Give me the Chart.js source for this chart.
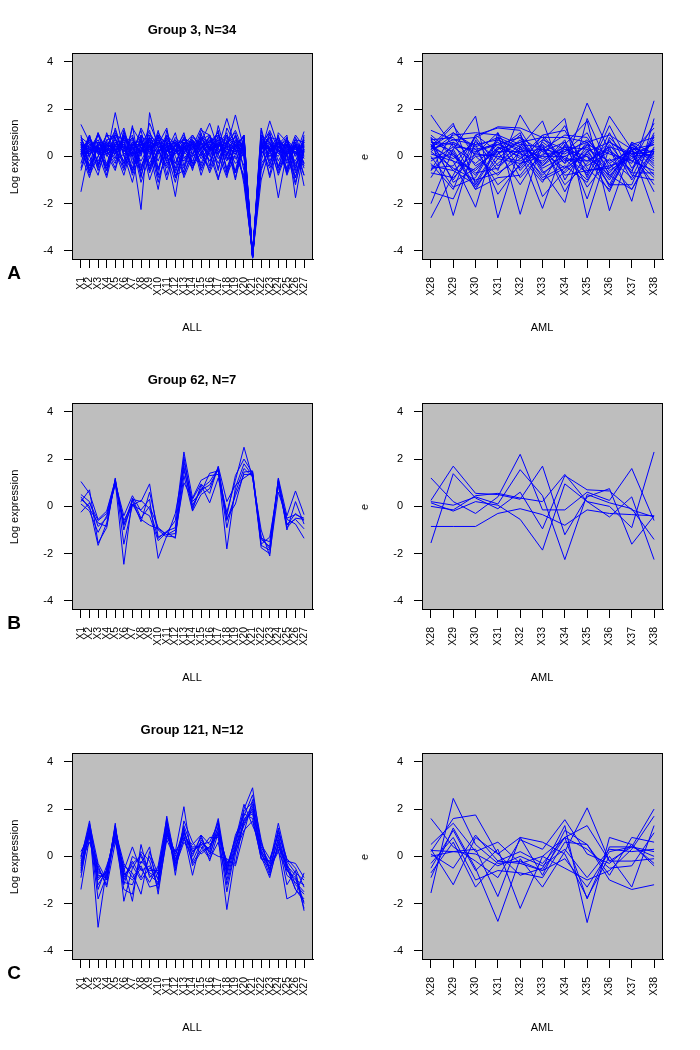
<!DOCTYPE html>
<html>
<head>
<meta charset="utf-8">
<script src="https://cdn.jsdelivr.net/npm/chart.js@4"></script>
<style>
  body { margin: 0; background: #fff; }
  #page { position: relative; width: 700px; height: 1050px; font-family: "Liberation Sans", Arial, sans-serif; color: #000; }
  #page canvas { position: absolute; }
  .txt { position: absolute; transform: translate(-50%, -50%); white-space: nowrap; font-size: 11px; }
  .rot { transform: translate(-50%, -50%) rotate(-90deg); }
  .ttl { font-weight: bold; font-size: 13px; }
  .let { font-weight: bold; font-size: 19px; }
</style>
</head>
<body>
<div id="page"></div>
<script>
// tick labels and titles
const yTicks = [-4, -2, 0, 2, 4];
const allLabels = ['X1','X2','X3','X4','X5','X6','X7','X8','X9','X10','X11','X12','X13','X14',
  'X15','X16','X17','X18','X19','X20','X21','X22','X23','X24','X25','X26','X27'];
const amlLabels = ['X28','X29','X30','X31','X32','X33','X34','X35','X36','X37','X38'];
const titles = ['Group 3, N=34', 'Group 62, N=7', 'Group 121, N=12'];
const rowLetters = ['A', 'B', 'C'];

// Group 3 - ALL samples (34 genes)
const g3All = [
  [0.3,-0.5,0.5,0.2,0.6, 0.4,-0.6,0.3,0.8,0.2, 0.5,-0.7,0.3,0.6,-0.4, 0.4,0.7,-0.5,0.5,0.2, -4.2,0.4,0.6,-0.5,0.3, 0.2,0.5],
  [1.35,0.6,0.2,0.5,0.3, 0.7,0.4,-0.2,0.5,0.9, 0.2,0.6,-0.1,0.4,0.8, 0.3,0.1,0.9,0.4,0.6, -4.15,0.2,1.5,0.4,0.7, 0.0,1.05],
  [-1.5,0.3,0.7,0.0,1.85, 0.2,0.6,0.4,-0.3,0.5, 1.2,-0.6,0.4,0.1,0.5, 0.8,0.2,0.4,1.75,0.3, -4.25,0.6,0.0,0.5,0.1, 0.6,-0.3],
  [0.5,-0.2,0.3,0.6,0.1, 0.9,0.2,-2.25,1.85,0.3, -0.4,0.5,0.2,-0.2,0.6, 0.1,0.5,0.2,-0.1,0.4, -4.1,0.9,0.3,0.0,0.6, 0.3,0.4],
  [0.1,0.8,-0.3,0.4,0.5, -0.2,1.2,0.6,0.2,-1.4, 0.6,0.3,-0.5,0.7,0.2, 0.5,-0.3,0.6,0.3,-0.9, -4.2,0.3,0.8,-0.2,0.5, -0.4,0.6],
  [0.8,0.0,0.9,0.3,0.4, 0.6,-0.5,0.9,0.4,0.7, 0.1,-1.7,0.6,0.3,0.8, 0.2,0.6,-0.2,0.7,0.5, -4.3,0.5,0.1,0.7,-0.3, 0.4,0.2],
  [0.2,0.5,0.4,-0.6,0.9, 0.3,0.7,0.1,1.0,0.4, 0.3,0.7,0.2,0.5,-0.3, 0.6,0.9,0.5,0.1,0.7, -4.15,-0.5,0.4,-1.75,0.2, 0.7,-0.1],
  [0.4,0.2,0.6,0.5,-0.1, 1.0,0.3,0.5,0.6,-0.2, 0.8,0.1,0.5,0.9,0.3, -0.2,0.4,1.6,0.4,0.0, -4.2,0.8,0.3,0.5,0.9, -1.75,0.3],
  [0.0,0.7,0.1,0.3,0.7, 0.5,0.9,-0.4,0.3,0.6, 0.2,0.4,0.9,0.1,0.6, 1.4,0.3,0.0,0.9,-1.2, -4.1,0.4,0.7,0.2,0.1, 0.5,-1.25],
  [0.6,-0.4,0.4,0.1,0.3, -0.3,0.5,0.2,0.7,0.1, 0.6,0.3,-0.2,0.4,1.2, 0.3,0.5,0.3,0.2,0.6, -4.25,1.2,-0.2,0.6,0.4, 0.1,0.6],
  [0.2,0.4,-0.5,0.7,0.2, 0.8,0.1,0.6,-0.6,0.3, 0.9,0.2,0.4,0.0,0.3, 0.7,0.1,0.8,0.3,0.9, -4.2,0.1,0.5,0.3,-0.5, 0.8,0.0],
  [0.7,0.1,0.3,0.4,1.1, 0.1,0.4,0.3,0.2,0.8, -0.1,0.5,0.7,0.6,-0.1, 0.4,0.8,0.1,0.6,0.3, -4.15,0.7,0.2,0.8,0.2, -0.2,0.7],
  [0.3,-0.7,0.6,0.2,0.4, 0.5,0.0,1.2,0.5,-0.5, 0.4,0.6,0.1,0.8,0.5, 0.0,0.6,0.4,-0.3,0.1, -4.3,0.3,0.9,0.1,0.7, 0.3,0.1],
  [0.5,0.3,0.2,-0.3,0.6, 0.2,0.8,0.0,1.4,0.5, 0.1,-0.3,0.5,0.3,0.7, 0.9,0.2,0.6,0.8,0.4, -4.2,-1.0,0.3,0.6,0.0, 0.9,0.4],
  [0.1,0.9,-0.4,0.5,0.2, 0.7,-0.7,0.7,-0.1,1.1, -0.3,0.2,1.0,-0.4,0.4, 0.6,1.0,-0.6,0.5,0.8, -4.1,0.6,-0.3,0.4,0.8, -0.5,0.8],
  [0.4,-0.6,0.0,0.9,0.8, -0.3,0.2,1.1,-0.4,0.2, 0.7,-0.8,-0.6,0.6,0.6, -0.2,0.4,0.9,-0.7,0.5, -4.25,0.5,1.0,-0.6,0.1, 0.4,-0.5],
  [0.2,0.0,1.0,-0.4,0.3, -0.6,0.6,0.2,0.8,-0.9, 0.0,0.8,0.4,-0.3,0.1, 0.9,-0.1,0.5,1.1,0.2, -4.2,0.9,0.6,-0.4,0.5, -0.3,0.2],
  [0.6,-0.4,1.0,0.2,-0.3, 1.1,-0.3,0.8,-0.6,1.0, 0.4,-0.5,0.8,-0.3,1.0, -0.4,0.9,-0.1,0.0,-0.8, -4.15,1.1,-0.4,0.9,-0.6, 0.5,-0.4],
  [-0.3,0.9,-0.4,1.0,0.0, -0.4,1.3,-0.8,0.4,-0.6, 0.9,0.5,-0.7,0.1,1.1, 0.9,-0.6,1.2,0.5,-0.4, -4.3,-0.2,1.0,-0.5,0.8, -0.6,0.9],
  [0.9,-0.6,0.4,-0.5,1.2, 0.0,-0.6,0.5,1.1,-0.5, 0.2,1.0,-0.4,0.7,-0.6, 0.3,1.1,-0.7,0.4,0.9, -4.2,0.6,-0.8,1.0,0.6, -0.7,0.3],
  [-0.5,0.8,0.2,-0.4,0.4, 1.2,-0.1,-0.6,0.7,-0.8, 1.1,-0.3,0.6,-0.6,0.8, 0.6,-0.5,0.6,1.0,-0.6, -4.1,0.3,-0.5,0.3,-0.7, 0.5,-0.8],
  [0.0,0.3,0.9,0.1,-0.6, 0.8,0.5,-1.1,0.0,0.9, -0.8,0.7,0.0,-0.5,0.2, -0.5,1.3,0.0,-0.6,0.8, -4.25,-0.6,0.4,0.8,-0.2, 0.7,0.6],
  [0.5,-0.8,0.0,0.7,0.8, -0.5,0.6,0.6,-0.5,0.3, -0.5,0.2,0.8,0.5,-0.5, 0.2,0.5,1.0,-0.9,0.4, -4.2,0.7,-0.9,0.4,0.5, -1.1,0.2],
  [0.2,0.6,-0.6,0.3,0.1, 0.5,-0.8,0.2,0.3,0.5, 0.7,-0.9,0.1,0.9,0.4, -0.7,0.2,0.4,0.3,-1.0, -4.15,0.5,0.3,-0.7,0.4, 0.3,0.6],
  [0.7,0.2,0.5,-0.8,1.0, 0.1,0.3,0.9,-0.7,0.2, 0.4,0.6,-0.9,0.0,0.9, 0.4,-0.9,0.1,0.9,0.2, -4.3,0.8,0.2,0.6,-0.8, 0.2,-0.8],
  [-0.6,0.5,0.2,0.9,0.3, 0.4,0.8,-0.9,0.8,0.4, -1.0,0.3,0.7,0.4,0.0, 0.7,0.4,-0.8,0.1,0.3, -4.2,0.4,1.1,0.3,0.0, -0.9,0.4],
  [0.1,-0.9,0.6,0.3,-0.5, 0.9,0.0,0.4,0.1,0.8, 0.6,-0.9,0.2,0.6,-0.8, 0.3,0.7,0.5,-1.0,0.9, -4.1,0.1,0.6,-0.8,0.2, 0.4,0.1],
  [0.6,0.0,-0.8,0.6,0.2, -0.8,0.5,0.7,-1.0,0.1, 0.8,0.0,-0.8,0.3,0.4, 0.1,-1.0,0.7,0.6,0.0, -4.25,0.6,0.0,0.2,0.5, -0.9,0.7],
  [0.3,0.7,0.1,-0.9,0.6, 0.6,0.2,-0.6,0.9,0.5, 0.1,-1.1,0.4,0.7,0.1, -0.6,0.5,0.3,0.2,0.6, -4.2,0.3,0.8,0.7,-0.7, 0.6,-0.3],
  [0.2,0.1,0.5,0.4,-0.2, 0.1,-1.1,0.5,0.2,0.7, -0.2,0.2,0.6,-0.5,0.7, 0.4,0.1,-0.9,0.7,0.3, -4.15,0.5,0.4,0.4,0.1, -1.2,0.5],
  [0.4,0.3,-0.2,0.5,0.9, 0.7,0.4,-0.5,0.5,-1.1, 0.3,0.1,0.4,0.5,0.3, 0.8,0.6,0.2,-0.7,0.7, -4.3,-0.3,0.2,0.3,0.6, 0.1,0.3],
  [0.8,0.5,0.6,0.1,0.3, 0.4,0.3,0.6,0.4,0.6, 0.2,0.5,0.3,0.3,0.6, 0.3,0.4,0.6,0.3,0.4, -4.2,0.7,0.6,0.2,0.4, 0.4,0.2],
  [0.1,0.2,0.4,-0.6,0.5, 0.5,0.1,0.2,0.6,0.4, 0.4,0.3,0.5,0.6,0.2, 0.5,0.2,0.4,0.6,0.1, -4.1,0.4,0.3,0.6,0.3, 0.2,0.6],
  [0.5,0.4,0.2,0.3,0.7, 0.2,0.5,0.5,0.3,0.2, 0.5,0.2,0.3,0.4,0.5, 0.6,0.5,0.3,0.1,0.5, -4.25,0.3,0.5,0.4,0.2, 0.5,0.4]
];

// Group 3 - AML samples
const g3Aml = [
  [1.75,0.4,-0.3,0.5,0.8, 0.2,-0.5,0.6,0.9,0.3,0.2],
  [-2.6,-0.8,0.9,1.2,1.1, -0.4,0.3,-0.2,0.4,0.1,0.5],
  [0.4,1.4,-1.2,0.3,0.6, 0.8,-0.3,2.25,0.2,-0.7,2.35],
  [0.8,-2.5,0.7,-0.6,1.75, 0.2,0.6,-0.8,1.7,0.3,-2.4],
  [-2.0,0.3,1.7,-2.6,0.4, 1.5,-1.0,0.5,-0.9,0.5,0.8],
  [0.5,-0.2,-2.15,1.0,-2.45, 0.7,1.6,-2.6,0.4,-1.9,1.6],
  [0.3,1.3,0.0,-0.8,0.2, -2.2,0.5,1.5,-2.3,0.4,-0.5],
  [-0.5,-0.4,0.8,1.25,1.2, 0.8,0.8,0.6,-0.3,-1.4,0.2],
  [0.6,0.2,-1.4,0.1,0.9, -0.6,-1.95,1.6,-0.5,0.2,1.2],
  [1.1,0.7,0.5,-1.6,-0.3, 0.0,1.3,-0.9,1.0,-0.8,-1.0],
  [-1.5,-1.8,0.2,0.6,-0.1, 0.9,-0.2,0.0,-1.5,0.6,0.1],
  [0.2,0.9,1.0,0.9,0.5, -0.3,0.7,-1.8,0.8,-0.2,-0.6],
  [0.7,-1.1,-0.5,0.3,1.0, -1.7,-0.6,0.3,-1.2,-1.2,0.9],
  [-0.6,1.0,0.3,-1.2,-0.4, 0.9,1.1,-0.5,-1.4,0.3,-1.5],
  [0.0,-1.3,-0.9,0.7,0.3, -0.8,0.2,1.0,-0.8,-1.4,0.4],
  [0.9,0.1,-1.4,-0.9,-0.8, 0.4,-1.2,-0.3,0.6,0.1,-1.2],
  [-0.9,0.6,-1.1,0.4,0.0, -1.1,0.5,-1.3,-0.1,-0.9,1.0],
  [0.5,-0.6,0.1,1.0,-0.6, 0.5,-1.5,0.2,-1.0,0.5,-0.3],
  [-0.6,0.3,-1.3,-0.1,0.7, -0.5,0.0,-0.7,1.3,-0.5,0.7],
  [-0.3,-1.4,0.9,0.2,-1.2, 0.3,0.9,0.8,-0.6,0.0,-0.9],
  [0.8,0.0,-0.7,-0.5,0.4, -0.9,-0.4,-1.1,0.7,-1.0,0.3],
  [0.4,1.0,0.4,0.8,-0.9, 0.1,0.2,0.6,-1.3,0.4,-0.1],
  [-0.4,-0.6,-1.2,-0.3,0.5, 0.4,-0.8,-0.6,-0.4,-0.1,0.6],
  [0.6,0.5,0.2,0.5,0.1, -0.2,0.4,0.3,-0.2,0.2,0.0],
  [0.1,-0.2,-0.6,0.4,-0.5, 0.6,-0.1,-1.0,0.5,-0.7,-0.7],
  [0.3,0.7,0.8,-0.4,0.3, 0.0,0.0,0.4,-0.7,0.3,0.5],
  [-0.7,-0.9,0.0,0.1,0.6, -0.4,0.6,-0.4,0.2,-0.3,1.4],
  [0.5,-1.0,0.5,0.7,0.2, -1.0,-0.5,0.1,-1.2,0.6,-0.4],
  [0.2,-0.5,-1.0,-0.7,-0.1, 0.7,0.3,0.0,-0.8,0.1,0.2],
  [-0.2,0.4,0.3,0.5,0.8, -0.7,-0.1,-0.2,0.3,-0.6,0.8],
  [0.7,0.8,-0.4,0.2,0.2, 0.3,0.1,0.7,-0.3,0.3,-0.8],
  [0.4,-0.1,0.6,-0.1,-0.3, 0.5,-0.3,0.5,0.1,-0.2,0.3],
  [-0.1,0.1,-0.8,0.8,0.4, -0.1,0.4,-0.6,-0.5,0.5,-0.2],
  [0.3,0.6,0.1,0.0,-0.2, 0.3,-0.7,0.2,0.6,0.0,0.1]
];

// Group 62 - ALL samples (7 genes)
const g62All = [
  [1.05,0.55,-0.55,-0.2,1.1, -0.75,0.3,0.2,0.95,-1.3, -1.1,-0.6,2.3,0.35,1.1, 1.3,1.35,-0.25,1.1,2.5, 1.2,-1.0,-2.1,1.2,-0.4, 0.65,-0.35],
  [0.3,0.0,-1.65,-0.7,1.05, -2.45,0.35,-0.5,0.0,-0.9, -1.2,-1.0,1.55,0.05,0.7, 0.9,1.55,-1.8,0.8,1.8, 1.3,-1.6,-1.3,0.85,-0.8, -0.3,-0.6],
  [0.2,0.7,-1.55,-0.9,1.15, -0.8,0.05,-0.15,0.3,-2.2, -1.25,-1.3,1.3,-0.2,0.5, 0.75,1.65,-0.5,0.1,1.45, 1.5,-1.65,-1.85,1.0,-0.55, -0.75,-1.35],
  [-0.25,0.15,-0.6,-0.3,1.1, -1.0,0.25,-0.65,0.6,-1.0, -1.3,-0.3,1.7,-0.15,0.9, 0.15,1.2,-0.4,1.3,2.0, 1.4,-1.35,-1.5,1.1,-0.75, -0.55,-0.95],
  [0.5,0.2,-0.85,-0.5,1.0, -0.4,0.45,-0.2,-0.4,-1.45, -1.1,-1.35,1.9,0.2,0.6, 1.4,1.5,-0.9,0.6,1.6, 1.25,-1.4,-1.7,1.15,-1.0, 0.2,-0.75],
  [0.1,-0.2,-1.1,-0.4,0.9, -0.6,0.1,-0.55,-0.8,-0.95, -1.2,-1.15,1.0,0.3,0.95, 0.55,1.7,0.2,0.9,1.2, 1.45,-1.3,-1.8,1.05,-0.9, -0.5,-0.55],
  [0.4,-0.1,-0.7,-0.85,1.2, -1.6,0.05,0.25,-0.1,-1.35, -1.05,-0.9,2.1,-0.05,0.75, 1.05,1.6,-0.6,0.45,1.35, 1.35,-1.75,-2.0,0.6,-0.5, -0.35,-0.5]
];

// Group 62 - AML samples
const g62Aml = [
  [-1.55,1.38,0.35,-0.1,0.6, -0.95,1.3,0.7,0.65,-0.15,-0.45],
  [1.2,0.2,-0.3,0.4,2.2, -0.15,-0.15,0.6,0.25,1.6,-0.6],
  [0.25,1.7,0.55,0.5,0.3, 1.7,-1.2,0.4,0.75,-1.6,-0.4],
  [0.0,-0.15,0.45,0.55,0.35, 0.2,1.35,0.2,-0.45,0.4,-2.25],
  [-0.85,-0.85,-0.85,-0.3,-0.1, -0.35,-0.8,-0.15,-0.3,-0.35,-0.4],
  [0.15,-0.2,0.2,0.05,-0.55, -1.85,0.95,0.2,0.0,-0.9,2.3],
  [0.2,0.05,0.4,0.1,1.55, 0.45,-2.25,0.5,0.15,-0.1,-1.4]
];

// Group 121 - ALL samples (12 genes)
const g121All = [
  [-0.1,1.5,-0.8,-0.9,1.3, -1.0,-0.3,0.0,-0.8,-1.1, 1.7,-0.2,1.0,0.2,0.6, 0.3,1.6,-0.6,0.6,2.0, 2.9,0.4,-0.3,1.4,-0.2, -0.7,-1.0],
  [0.0,1.0,-1.2,-0.6,1.1, -0.5,-1.9,0.5,-0.9,-0.5, 1.2,-0.5,0.8,0.5,0.9, -0.2,1.0,-1.5,0.3,1.8, 1.6,-0.1,-0.5,0.2,-0.6, -0.9,-2.2],
  [-0.6,1.3,-3.0,-0.5,0.8, -1.2,0.0,-0.3,0.4,-1.6, 0.9,0.2,2.1,-0.3,0.3, 0.8,0.8,-2.25,0.1,1.4, 2.0,0.2,-0.8,0.5,-0.3, -1.2,-1.6],
  [-0.3,1.1,-0.4,-1.3,0.6, -0.4,-0.7,-1.6,0.2,-0.8, 1.5,-0.8,1.5,0.6,0.1, 0.4,1.2,-0.4,0.7,2.2, 1.3,0.5,-0.1,0.9,-0.5, -1.4,-1.8],
  [-1.4,0.8,-0.6,-1.0,1.4, -1.9,-0.5,0.1,-0.7,-0.9, 1.0,0.1,0.9,-0.8,0.7, 0.2,0.0,-0.1,-0.4,1.0, 2.4,0.3,-0.5,0.3,-1.8, -1.6,-0.7],
  [0.2,0.9,-0.9,-0.7,1.0, -0.6,0.4,-0.6,-0.4,-1.2, 1.3,-0.3,1.1,0.0,0.9, 0.5,0.9,-0.2,-0.3,1.6, 1.8,-0.1,-0.2,1.0,-0.1, -0.5,-1.3],
  [-0.4,1.4,-0.3,-1.0,0.9, -0.7,-1.0,-0.5,-1.1,-0.4, 1.6,-0.6,1.3,0.3,0.5, 0.6,1.4,-0.7,0.9,1.7, 2.6,0.7,-0.7,1.2,-0.4, -0.8,-2.0],
  [-0.9,1.2,-1.4,-0.4,0.7, -1.4,-1.6,0.2,-0.2,-1.4, 0.7,-0.1,0.7,0.4,0.4, -0.1,0.6,-1.0,0.4,1.3, 2.1,0.1,-0.4,0.7,-0.8, -1.1,-1.5],
  [-0.2,0.6,-0.5,-1.2,1.2, -0.9,-0.2,-0.9,0.0,-1.0, 1.1,-0.4,0.6,0.1,0.8, 0.1,1.1,-0.3,0.2,1.1, 1.5,0.0,-0.9,0.6,-1.2, -0.6,-2.3],
  [-0.7,1.0,-1.8,-0.8,1.0, -1.1,-1.2,-0.2,-0.6,-0.6, 1.4,0.0,1.2,-0.4,0.2, 0.4,1.0,-0.8,0.5,1.9, 2.3,0.6,-0.6,0.8,-0.6, -1.0,-1.2],
  [0.0,1.3,-0.7,-0.8,1.3, -0.8,-0.4,-1.0,-0.5,-0.7, 1.0,-0.3,1.0,0.2,0.5, 0.0,1.3,-0.5,0.8,1.5, 1.9,0.2,-0.3,1.1,-0.2, -0.3,-0.9],
  [-0.5,0.9,-1.0,-0.6,1.1, -0.3,-0.9,-0.4,-1.3,-1.2, 0.8,0.2,0.8,-0.2,0.6, 0.2,1.5,-1.2,0.3,1.5, 2.2,0.1,-0.5,0.4,-0.4, -1.4,-1.9]
];

// Group 121 - AML samples
const g121Aml = [
  [1.6,0.4,-0.2,-0.9,0.7, 0.3,1.55,0.1,-0.3,0.5,-0.4],
  [-1.55,2.45,0.5,-0.3,-0.2, -0.6,0.8,-1.8,0.4,0.4,2.0],
  [0.2,1.6,1.75,0.1,-0.8, -0.5,1.3,-2.8,0.8,0.5,-0.3],
  [-0.9,1.2,-0.5,-2.75,-0.1, -1.3,0.2,2.05,-0.2,0.4,0.2],
  [0.3,-1.2,0.8,0.1,0.8, 0.6,0.1,-1.75,0.0,-1.3,1.3],
  [0.0,0.2,0.3,-1.7,0.8, -0.8,1.1,0.5,-0.8,0.8,0.6],
  [-0.5,1.1,-0.6,0.3,-2.2, 0.0,0.8,0.3,-0.5,-0.4,1.0],
  [0.25,0.2,0.1,-0.4,0.0, -0.4,0.3,-0.9,0.3,0.2,0.3],
  [-0.3,0.8,-1.0,-0.6,-0.7, -0.9,0.6,0.5,-1.0,-1.4,-1.2],
  [0.1,-0.5,0.9,-0.2,0.2, -0.3,0.8,1.3,-0.2,-0.2,-0.1],
  [-0.7,0.6,-1.3,-0.2,-0.3, -0.6,-0.1,-1.3,0.2,0.4,0.0],
  [0.5,1.4,0.2,0.6,-0.3, 0.0,-0.5,-1.0,-0.6,0.3,1.7]
];

const rows = [
  { all: g3All, aml: g3Aml },
  { all: g62All, aml: g62Aml },
  { all: g121All, aml: g121Aml }
];

const page = document.getElementById('page');

function addText(text, x, y, cls) {
  const d = document.createElement('div');
  d.className = 'txt' + (cls ? ' ' + cls : '');
  d.style.left = x + 'px';
  d.style.top = y + 'px';
  d.textContent = text;
  page.appendChild(d);
}

// grey plot region with a black frame, like base R
const rBox = {
  id: 'rBox',
  beforeDraw(chart) {
    const a = chart.chartArea, c = chart.ctx;
    c.save();
    c.fillStyle = '#BEBEBE';
    c.fillRect(a.left, a.top, a.right - a.left, a.bottom - a.top);
    c.restore();
  },
  afterDraw(chart) {
    const a = chart.chartArea, c = chart.ctx;
    c.save();
    c.strokeStyle = '#000';
    c.lineWidth = 1;
    c.strokeRect(a.left + 0.5, a.top + 0.5, a.right - a.left - 1, a.bottom - a.top);
    c.restore();
  }
};

function makePanel(left, top, labels, first, series) {
  const cv = document.createElement('canvas');
  cv.width = 350; cv.height = 350;
  cv.style.left = left + 'px';
  cv.style.top = top + 'px';
  page.appendChild(cv);

  const last = first + labels.length - 1;
  const pad = 0.04 * (labels.length - 1);

  new Chart(cv, {
    type: 'line',
    data: {
      datasets: series.map(vals => ({
        data: vals.map((v, i) => ({ x: first + i, y: v })),
        borderColor: '#0000FF',
        borderWidth: 1,
        pointRadius: 0,
        fill: false,
        tension: 0
      }))
    },
    options: {
      responsive: false,
      animation: false,
      layout: { padding: { top: 53, right: 37, left: 0, bottom: 0 } },
      plugins: { legend: { display: false }, tooltip: { enabled: false } },
      scales: {
        x: {
          type: 'linear',
          min: first - pad,
          max: last + pad,
          afterBuildTicks: s => { s.ticks = labels.map((l, i) => ({ value: first + i })); },
          afterFit: s => { s.height = 91; },
          ticks: {
            autoSkip: false,
            minRotation: 90,
            maxRotation: 90,
            padding: 9,
            color: '#000',
            font: { family: 'Liberation Sans', size: 10.5 },
            callback: v => labels[Math.round(v) - first]
          },
          grid: { drawOnChartArea: false, tickLength: 9, color: '#000' },
          border: { color: '#000' }
        },
        y: {
          min: -4.34,
          max: 4.37,
          afterBuildTicks: s => { s.ticks = yTicks.map(v => ({ value: v })); },
          afterFit: s => { s.width = 72; },
          ticks: {
            padding: 11,
            color: '#000',
            font: { family: 'Liberation Sans', size: 11 }
          },
          grid: { drawOnChartArea: false, tickLength: 8, color: '#000' },
          border: { color: '#000' }
        }
      }
    },
    plugins: [rBox]
  });
}

rows.forEach((r, k) => {
  const top = k * 350;
  makePanel(0, top, allLabels, 1, r.all);
  makePanel(350, top, amlLabels, 28, r.aml);
  addText(titles[k], 192, top + 29, 'ttl');
  addText('Log expression', 14, top + 157, 'rot');
  addText('e', 364, top + 157, 'rot');
  addText('ALL', 192, top + 327);
  addText('AML', 542, top + 327);
  addText(rowLetters[k], 14, top + 273, 'let');
});
</script>
</body>
</html>
